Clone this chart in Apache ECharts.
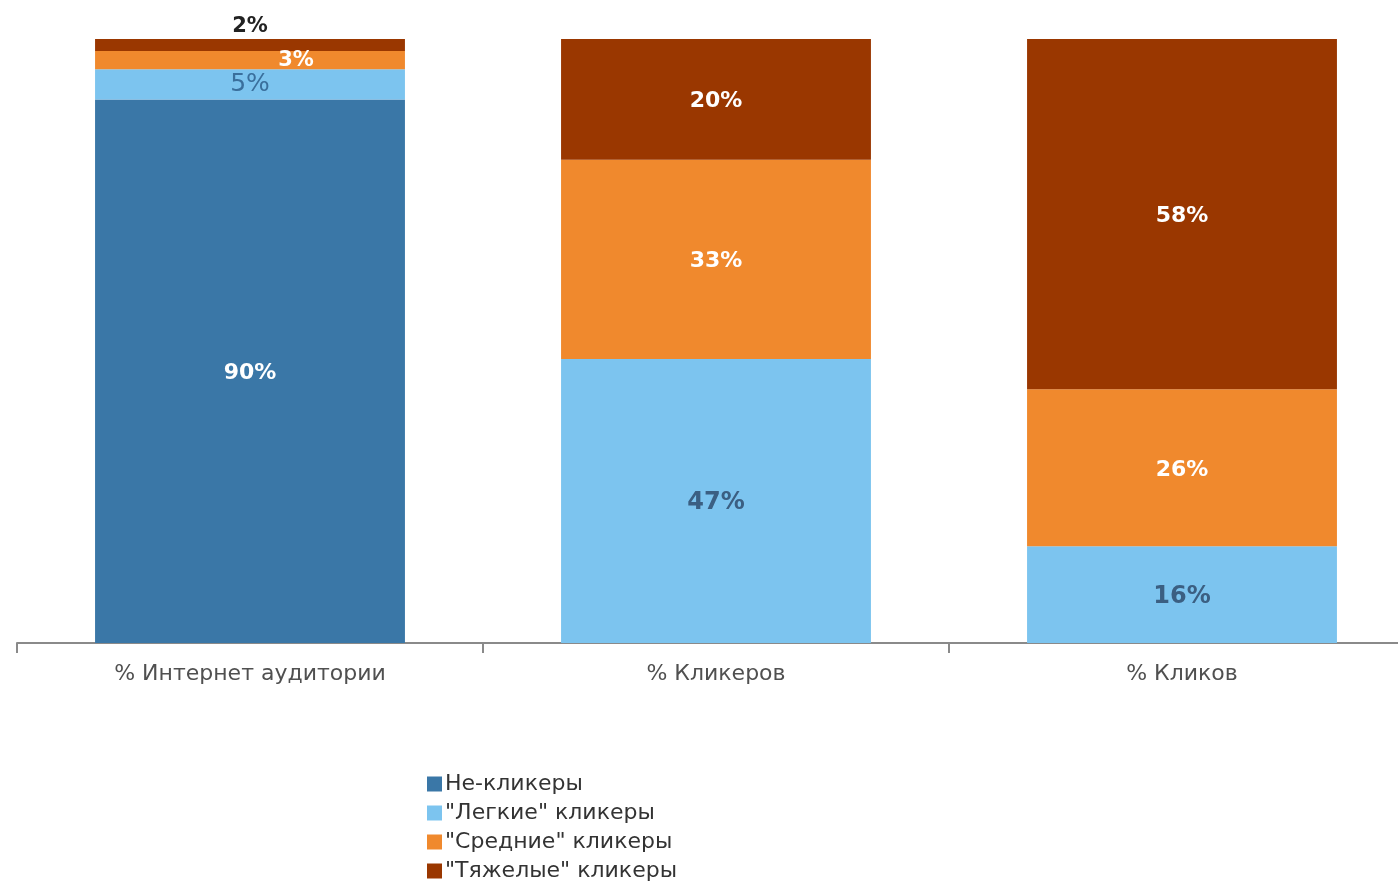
<!DOCTYPE html>
<html>
<head>
<meta charset="utf-8">
<script src="https://cdn.jsdelivr.net/npm/echarts@6/dist/echarts.min.js"></script>
<style>
  html, body { margin: 0; padding: 0; background: #fff; }
  #chart { width: 1398px; height: 881px; }
</style>
</head>
<body>
<div id="chart"></div>
<script>
// Categories along the x axis
const categories = ['% Интернет аудитории', '% Кликеров', '% Кликов'];

// Share of each user group, percent (stacked to 100)
const seriesNames = ['Не-кликеры', '"Легкие" кликеры', '"Средние" кликеры', '"Тяжелые" кликеры'];
const nonClickers = [90, 0, 0];
const lightClickers = [5, 47, 16];
const mediumClickers = [3, 33, 26];
const heavyClickers = [2, 20, 58];

const colors = ['#3a77a7', '#7cc4ef', '#f0892d', '#9a3700'];

const fontFamily = '"DejaVu Sans", Verdana, sans-serif';

function pct(p) { return p.value > 0 ? p.value + '%' : ''; }

// Wrap values as data items; some segments carry their own label style
function buildData(values, overrides) {
  return values.map((v, i) => {
    const item = { value: v };
    if (overrides && overrides[i]) item.label = overrides[i];
    return item;
  });
}

const whiteBold = { color: '#fff', fontWeight: 'bold', fontSize: 22, fontFamily, offset: [0, 2] };
const blueLabel = { color: '#3b5f82', fontWeight: 'bold', fontSize: 24, fontFamily, offset: [0, 2] };

const series = [
  {
    name: seriesNames[0],
    data: buildData(nonClickers),
    label: Object.assign({ show: true, position: 'inside', formatter: pct }, whiteBold)
  },
  {
    name: seriesNames[1],
    data: buildData(lightClickers, { 0: { fontWeight: 'normal', color: '#3a6f9c', fontSize: 25, offset: [0, 0] } }),
    label: Object.assign({ show: true, position: 'inside', formatter: pct }, blueLabel)
  },
  {
    name: seriesNames[2],
    data: buildData(mediumClickers, { 0: { offset: [46, 0], fontSize: 21 } }),
    label: Object.assign({ show: true, position: 'inside', formatter: pct }, whiteBold)
  },
  {
    name: seriesNames[3],
    data: buildData(heavyClickers, { 0: { position: 'top', color: '#222', fontSize: 21, distance: 2, offset: [0, 0] } }),
    label: Object.assign({ show: true, position: 'inside', formatter: pct }, whiteBold)
  }
].map((s, i) => Object.assign({
  type: 'bar',
  stack: 'total',
  barWidth: '66.5%',
  itemStyle: { color: colors[i] },
  emphasis: { disabled: true }
}, s));

const chart = echarts.init(document.getElementById('chart'));
chart.setOption({
  animation: false,
  color: colors,
  grid: { left: 17, width: 1398, top: 39, height: 604, containLabel: false, outerBoundsMode: 'none' },
  xAxis: {
    type: 'category',
    data: categories,
    axisLine: { lineStyle: { color: '#8a8a8a', width: 2 } },
    axisTick: { show: true, length: 10, lineStyle: { color: '#8a8a8a', width: 2 } },
    axisLabel: { color: '#505050', fontSize: 22, fontFamily, margin: 20 }
  },
  yAxis: {
    type: 'value',
    min: 0,
    max: 100,
    show: false,
    splitLine: { show: false }
  },
  legend: {
    orient: 'vertical',
    left: 422,
    top: 768,
    height: 160,
    icon: 'rect',
    itemWidth: 15,
    itemHeight: 15,
    itemGap: 7,
    data: seriesNames,
    textStyle: { color: '#333', fontSize: 22, fontFamily, padding: [0, 0, 0, -2] }
  },
  series
});
</script>
</body>
</html>
